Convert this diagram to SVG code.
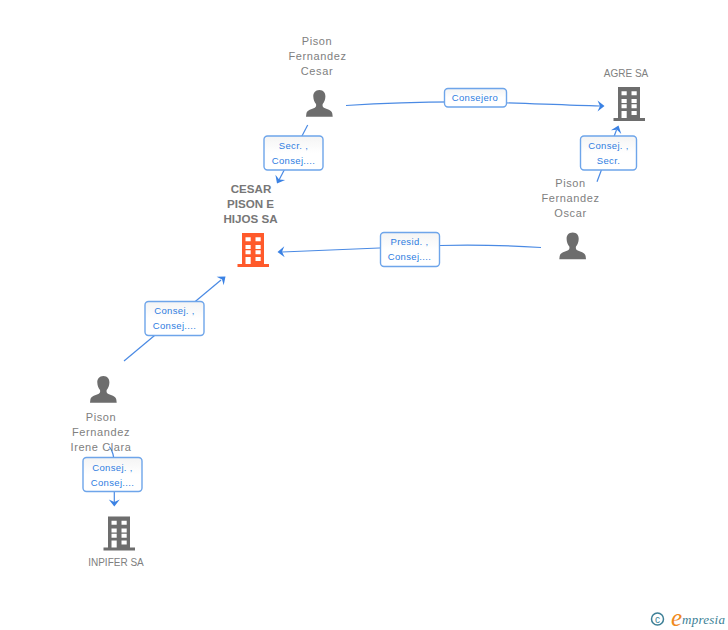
<svg xmlns="http://www.w3.org/2000/svg" width="728" height="630" viewBox="0 0 728 630">
<style>
.n{font:11px "Liberation Sans",Arial,sans-serif;letter-spacing:.6px;fill:#808080;text-anchor:middle}
.s{font-size:10px;letter-spacing:0}
.b{font-size:11.600px;font-weight:bold;fill:#777;letter-spacing:0}
.l{font:9.500px "Liberation Sans",Arial,sans-serif;letter-spacing:.35px;fill:#2f7de1;text-anchor:middle}
.box{fill:url(#g);stroke:#6ea5ea;stroke-width:1.4}
.c{fill:none;stroke:#4a8ae4;stroke-width:1.2}
.a{fill:#3b82e4}
</style>
<defs>
<linearGradient id="g" x1="0" y1="0" x2="0" y2="1"><stop offset="0" stop-color="#f4f4f4"/><stop offset=".5" stop-color="#fff"/></linearGradient>
<path id="arrow" d="M0 0L-7 -5.500L-4.500 0L-7 5.500Z"/>
<path id="bld" fill-rule="evenodd" d="M4.500 0H26.500V31H31.500V34H0V31H4.500ZM8 4.300V8.300H13.200V4.300ZM18 4.300V8.300H23.200V4.300ZM8 12V16H13.200V12ZM18 12V16H23.200V12ZM8 17.300V21.300H13.200V17.300ZM18 17.300V21.300H23.200V17.300ZM8 24V31H13.200V24ZM18 24V28H23.200V24Z"/>
<path id="per" d="M13.400 0C9.200 0 7.200 3 7.300 6.500C7.400 9.500 8.400 12 10 14C10.400 15.500 10.100 17 8.800 17.800C6 19.300 1 20 .4 23.500L0 26.700H26.700L26.300 23.500C25.700 20 20.700 19.300 17.900 17.800C16.600 17 16.300 15.500 16.700 14C18.300 12 19.300 9.500 19.400 6.500C19.500 3 17.600 0 13.400 0Z"/>
</defs>
<g id="connectors">
<path class="c" d="M346 105.500C400 102 430 101.500 475 102C520 103 560 105 600 106"/>
<use href="#arrow" class="a" transform="translate(604.500 106)"/>
<path class="c" d="M307.700 125L278.500 181"/>
<use href="#arrow" class="a" transform="translate(277 183.500) rotate(118)"/>
<path class="c" d="M541 247.500C500 245 470 244.500 440 245.500L282 252"/>
<use href="#arrow" class="a" transform="translate(277.500 252) rotate(178)"/>
<path class="c" d="M597 181.700L616.500 130"/>
<use href="#arrow" class="a" transform="translate(618.500 125.500) rotate(-70)"/>
<path class="c" d="M124 361L221 280"/>
<use href="#arrow" class="a" transform="translate(225.500 276.500) rotate(-40)"/>
<path class="c" d="M109.300 446.700C112 450 114.300 455 114.300 465V502"/>
<use href="#arrow" class="a" transform="translate(114.300 506.500) rotate(90)"/>
</g>
<g id="edge-label-1"><rect class="box" x="444.500" y="88.500" width="62" height="18.500" rx="3.500"/><text class="l" x="475" y="101">Consejero</text></g>
<g id="edge-label-2"><rect class="box" x="264" y="136" width="59" height="34" rx="3.500"/><text class="l" x="293.500" y="149">Secr. ,</text><text class="l" x="293.500" y="164">Consej....</text></g>
<g id="edge-label-3"><rect class="box" x="380.500" y="232.500" width="59" height="34" rx="3.500"/><text class="l" x="409.500" y="245">Presid. ,</text><text class="l" x="409.500" y="260">Consej....</text></g>
<g id="edge-label-4"><rect class="box" x="580.500" y="136" width="56" height="34" rx="3.500"/><text class="l" x="608.500" y="149">Consej. ,</text><text class="l" x="608.500" y="164">Secr.</text></g>
<g id="edge-label-5"><rect class="box" x="145" y="301.500" width="59" height="34" rx="3.500"/><text class="l" x="174.500" y="314">Consej. ,</text><text class="l" x="174.500" y="329">Consej....</text></g>
<g id="edge-label-6"><rect class="box" x="83" y="457.500" width="59" height="34" rx="3.500"/><text class="l" x="112.500" y="471">Consej. ,</text><text class="l" x="112.500" y="486">Consej....</text></g>
<g id="node-cesar-person"><text class="n" x="317" y="45">Pison</text><text class="n" x="317.500" y="60">Fernandez</text><text class="n" x="317" y="75">Cesar</text><use href="#per" x="306" y="90" fill="#6d6d6d"/></g>
<g id="node-agre"><text class="n s" x="626" y="77">AGRE SA</text><use href="#bld" x="613.500" y="87" fill="#6d6d6d"/></g>
<g id="node-oscar"><text class="n" x="570.500" y="187">Pison</text><text class="n" x="570.500" y="202">Fernandez</text><text class="n" x="570.500" y="217">Oscar</text><use href="#per" x="559.300" y="232.500" fill="#6d6d6d"/></g>
<g id="node-cesar-pison"><text class="n b" x="251" y="193">CESAR</text><text class="n b" x="250.500" y="208">PISON E</text><text class="n b" x="250.500" y="223">HIJOS SA</text><use href="#bld" x="237.500" y="233" fill="#ff5a2b"/></g>
<g id="node-irene"><use href="#per" x="90" y="376" fill="#6d6d6d"/><text class="n" x="101" y="421">Pison</text><text class="n" x="101" y="436">Fernandez</text><text class="n" x="101" y="451">Irene Clara</text></g>
<g id="node-inpifer"><use href="#bld" x="103.500" y="516.500" fill="#6d6d6d"/><text class="n s" x="116" y="566">INPIFER SA</text></g>
<g id="logo"><circle cx="657.500" cy="619" r="6" fill="none" stroke="#3d7f96" stroke-width="1.500"/><text x="657.500" y="622.500" font-family="Liberation Sans,sans-serif" font-size="10" fill="#3d7f96" text-anchor="middle">c</text><text x="671" y="626" font-family="Liberation Serif,serif" font-style="italic" font-size="25" fill="#f08a1d">e</text><text x="682" y="623.500" font-family="Liberation Serif,serif" font-style="italic" font-size="13" textLength="43" fill="#3d7f96">mpresia</text></g>
</svg>
